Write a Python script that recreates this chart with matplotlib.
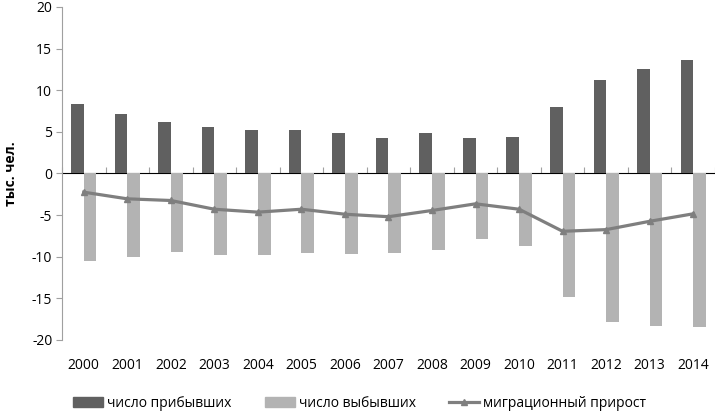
import numpy as np
import matplotlib.pyplot as plt
from matplotlib.lines import Line2D
from matplotlib.patches import Patch

plt.rcParams['font.family'] = ['Open Sans', 'DejaVu Sans']
plt.rcParams['axes.unicode_minus'] = False

# данные (тыс. чел.)
years = ['2000', '2001', '2002', '2003', '2004', '2005', '2006', '2007',
         '2008', '2009', '2010', '2011', '2012', '2013', '2014']
arrived = [8.4, 7.1, 6.2, 5.6, 5.2, 5.2, 4.9, 4.3, 4.8, 4.2, 4.4, 7.95, 11.2, 12.5, 13.6]
departed = [-10.5, -10.0, -9.4, -9.8, -9.8, -9.5, -9.7, -9.5, -9.2, -7.9, -8.7,
            -14.8, -17.8, -18.3, -18.5]
net = [-2.25, -3.05, -3.25, -4.3, -4.65, -4.3, -4.9, -5.2, -4.45, -3.65, -4.3,
       -6.95, -6.75, -5.75, -4.85]

c_dark = '#606060'
c_light = '#b3b3b3'
c_line = '#7f7f7f'
c_axis = '#a0a0a0'

x = np.arange(len(years))
w = 0.29

fig = plt.figure(figsize=(7.15, 4.11), dpi=100)
ax = fig.add_axes([0.0867, 0.173, 0.9133, 0.81])

ax.bar(x - w / 2, arrived, w, color=c_dark, zorder=2)
ax.bar(x + w / 2, departed, w, color=c_light, zorder=2)
ax.plot(x, net, color=c_line, lw=2.3, marker='^', ms=5, zorder=3)

ax.set_xlim(-0.5, len(years) - 0.5)
ax.set_ylim(-20, 20)
ax.set_yticks(np.arange(-20, 21, 5))
ax.set_xticks(x)
ax.set_xticklabels(years)
ax.tick_params(axis='x', length=0, pad=13, labelsize=10, colors='black')
ax.tick_params(axis='y', length=4, color=c_axis, labelsize=10, pad=3)

for s in ['top', 'right', 'bottom']:
    ax.spines[s].set_visible(False)
ax.spines['left'].set_color(c_axis)

# нулевая линия с рисками между категориями
sec = ax.secondary_xaxis(0.5)
sec.set_xticks(np.arange(len(years) + 1) - 0.5)
sec.set_xticklabels([])
sec.tick_params(length=4, color=c_axis, direction='out')
sec.spines['bottom'].set_color(c_axis)
sec.spines['bottom'].set_linewidth(1.2)

ax.set_ylabel('тыс. чел.', fontweight='bold', fontsize=10)
ax.yaxis.set_label_coords(-0.068, 0.5)

handles = [Patch(color=c_dark), Patch(color=c_light),
           Line2D([], [], color=c_line, lw=2.3, marker='^', ms=5)]
labels = ['число прибывших', 'число выбывших', 'миграционный прирост']
fig.legend(handles, labels, loc='lower left', bbox_to_anchor=(0.085, -0.03),
           ncol=3, frameon=False, fontsize=10, handlelength=2.15,
           handleheight=0.7, columnspacing=2.4, handletextpad=0.3)

fig.savefig('out.png', dpi=100)
